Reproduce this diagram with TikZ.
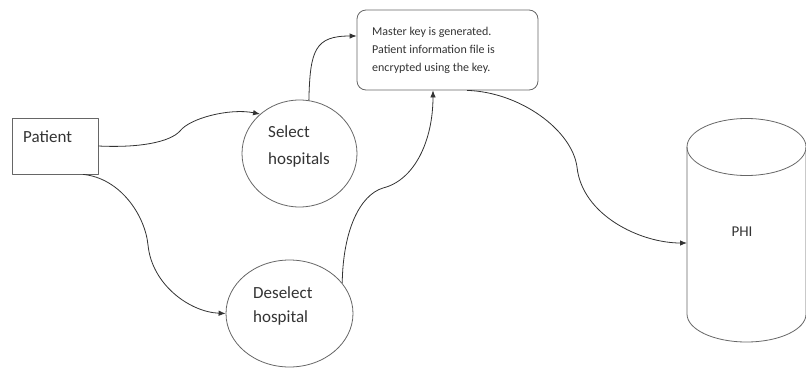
\documentclass[tikz,border=0pt]{standalone}
\usepackage{fontspec}
\setmainfont{Carlito}
\usetikzlibrary{arrows.meta,shapes.geometric}
\begin{document}
\begin{tikzpicture}[x=1pt,y=-1pt,line join=round,
  shapeline/.style={draw=black!60,line width=0.8pt},
  flow/.style={draw=black!80,line width=0.8pt,-{Latex[length=7pt,width=5.5pt]}},
  lbl/.style={inner sep=0pt,text=black!80,align=left,anchor=west,
    font=\fontsize{17}{27}\selectfont}]
\useasboundingbox (0,0) rectangle (806,367);

% patient entity
\node[shapeline,rectangle,minimum width=86pt,minimum height=56pt,inner sep=0pt] (patient) at (55,146) {};
\node[lbl] (patienttext) at (23,137) {Patient};

% processes
\node[shapeline,ellipse,minimum width=115pt,minimum height=107pt,inner sep=0pt] (sel) at (299.5,153.5) {};
\node[lbl] (seltext) at (268,146.5) {Select\\hospitals};

\node[shapeline,ellipse,minimum width=127pt,minimum height=107pt,inner sep=0pt] (desel) at (289.5,313.5) {};
\node[lbl,font=\fontsize{17}{24}\selectfont] (deseltext) at (253,306) {Deselect\\hospital};

% key generation step
\node[shapeline,rectangle,rounded corners=9pt,minimum width=181pt,minimum height=80pt,inner sep=0pt] (master) at (447.5,50) {};
\node[lbl,font=\fontsize{12}{18}\selectfont] (mastertext) at (372,50)
  {Master key is generated.\\Patient information file is\\encrypted using the key.};

% PHI data store
\draw[shapeline] (687,147) -- (687,314)
  arc[start angle=180,end angle=360,x radius=59.5pt,y radius=28pt] -- (806,147);
\draw[shapeline] (746.5,147) ellipse[x radius=59.5pt,y radius=28.5pt];
\node[lbl,anchor=center,font=\fontsize{15}{18}\selectfont] (phi) at (742,232) {PHI};
\coordinate (phiin) at (687,243);

% data flows
\draw[flow] (patient.east) .. controls (140,148) and (170,142) .. (180,131)
  .. controls (190,118) and (230,108) .. (sel.135);
\draw[flow] (sel.80) .. controls (310,50) and (315,36) .. ([yshift=14pt]master.west);
\draw[flow] ([xshift=28pt]patient.south) .. controls (120,178) and (145,215) .. (148,245)
  .. controls (152,285) and (190,312) .. (desel.west);
\draw[flow] (desel.30) .. controls (343,230) and (360,195) .. (383,188)
  .. controls (415,180) and (433,140) .. ([xshift=-14.5pt]master.south);
\draw[flow] ([xshift=19.5pt]master.south) .. controls (520,92) and (572,130) .. (577,167)
  .. controls (582,215) and (640,243) .. (phiin);
\end{tikzpicture}
\end{document}
